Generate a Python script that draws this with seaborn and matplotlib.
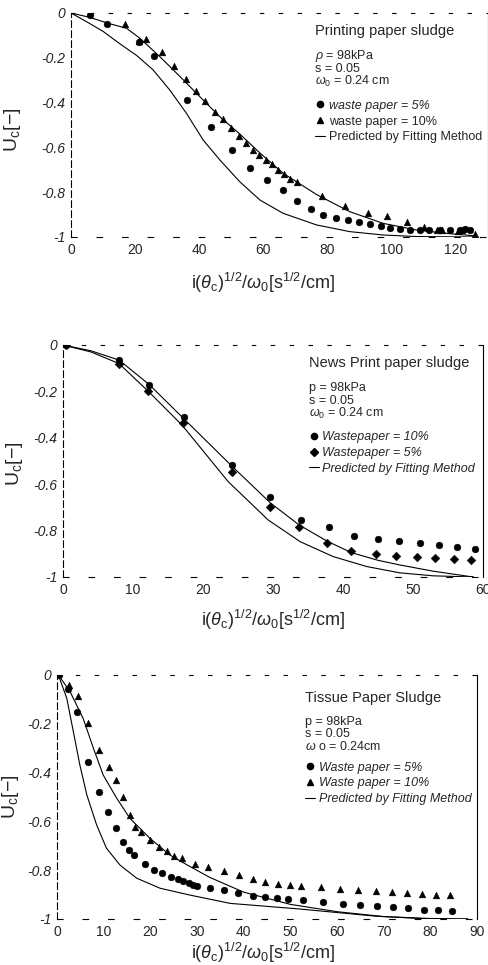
import numpy as np
import pandas as pd
import matplotlib
matplotlib.use('Agg')
import matplotlib.pyplot as plt
from matplotlib.lines import Line2D
import seaborn as sns

sns.set_style('white')
plt.rcParams['font.family'] = ['Liberation Sans', 'DejaVu Sans']
plt.rcParams['mathtext.fontset'] = 'custom'
plt.rcParams['mathtext.rm'] = 'Liberation Sans'
plt.rcParams['mathtext.it'] = 'Liberation Sans:italic'

##################################################################
# panel 1 : printing paper sludge
p1_x5 = [5.9, 11.3, 21.2, 26.0, 36.1, 43.5, 50.3, 55.9, 61.2, 66.1, 70.4, 74.8, 78.7, 82.5, 86.2, 89.8,
         93.1, 96.5, 99.6, 102.7, 105.8, 108.8, 111.7, 115.1, 118.2, 121.3, 122.8, 124.4]
p1_y5 = [-0.01, -0.05, -0.13, -0.19, -0.39, -0.51, -0.61, -0.69, -0.745, -0.79, -0.84, -0.875, -0.90,
         -0.914, -0.926, -0.935, -0.94, -0.95, -0.958, -0.964, -0.967, -0.967, -0.967, -0.967, -0.967,
         -0.967, -0.965, -0.967]
p1_x10 = [16.9, 21.3, 23.4, 28.3, 32.2, 35.8, 39.0, 41.9, 44.8, 47.5, 50.0, 52.3, 54.6, 56.7, 58.6, 60.7,
          62.7, 64.6, 66.4, 68.3, 70.3, 78.2, 85.3, 92.5, 98.6, 104.6, 110.2, 114.0, 115.6, 120.8, 122.0, 126.0]
p1_y10 = [-0.05, -0.126, -0.115, -0.174, -0.238, -0.293, -0.347, -0.394, -0.44, -0.473, -0.513, -0.548,
          -0.58, -0.61, -0.632, -0.655, -0.676, -0.70, -0.72, -0.74, -0.753, -0.815, -0.863, -0.893,
          -0.908, -0.934, -0.957, -0.967, -0.97, -0.972, -0.968, -0.988]
p1_fit_a_x = [0, 6, 11.6, 17.3, 21.5, 27.7, 34, 40.2, 46.4, 52.6, 58.9, 66.1, 76.5, 86.9, 97.3, 107.7, 118, 126]
p1_fit_a_y = [0, -0.02, -0.046, -0.068, -0.113, -0.195, -0.284, -0.374, -0.463, -0.54, -0.625, -0.715,
              -0.81, -0.887, -0.939, -0.969, -0.985, -0.995]
p1_fit_b_x = [0, 5, 10.1, 15, 20.5, 25.6, 30.8, 36, 41.2, 46.4, 52.6, 58.9, 66.1, 76.5, 86.9, 97.3, 107.7, 126]
p1_fit_b_y = [0, -0.04, -0.083, -0.135, -0.19, -0.254, -0.344, -0.448, -0.567, -0.656, -0.753, -0.835,
              -0.894, -0.946, -0.976, -0.991, -0.998, -1.0]

# panel 2 : news print paper sludge
p2_x10 = [0.4, 8.0, 12.3, 17.3, 24.2, 29.6, 34.0, 38.0, 41.6, 45.0, 48.0, 51.0, 53.7, 56.3, 58.9]
p2_y10 = [0, -0.065, -0.172, -0.31, -0.517, -0.654, -0.754, -0.786, -0.823, -0.836, -0.845, -0.852,
          -0.862, -0.869, -0.88]
p2_x5 = [0.4, 8.0, 12.2, 17.2, 24.1, 29.5, 33.7, 37.7, 41.2, 44.7, 47.6, 50.5, 53.1, 55.9, 58.3]
p2_y5 = [0, -0.08, -0.198, -0.338, -0.546, -0.697, -0.786, -0.852, -0.888, -0.901, -0.908, -0.912,
         -0.917, -0.922, -0.927]
p2_fit_a_x = [0, 4, 8, 12.3, 17.2, 24.2, 29.6, 33.7, 37.7, 41.2, 45, 48.1, 52.9, 58.6]
p2_fit_a_y = [0, -0.025, -0.065, -0.17, -0.316, -0.524, -0.68, -0.775, -0.845, -0.895, -0.928, -0.948,
              -0.975, -1.0]
p2_fit_b_x = [0, 4, 8, 12.2, 17, 23.6, 29.3, 33.9, 38.6, 43.4, 48.1, 52.9, 58.6]
p2_fit_b_y = [0, -0.03, -0.08, -0.2, -0.345, -0.589, -0.754, -0.848, -0.912, -0.955, -0.982, -0.995, -1.0]

# panel 3 : tissue paper sludge
p3_x5 = [0.5, 2.3, 4.2, 6.6, 9.0, 10.9, 12.6, 14.1, 15.4, 16.6, 18.8, 20.7, 22.6, 24.4, 25.9, 27.1, 28.2,
         29.1, 30.1, 32.7, 35.7, 38.8, 41.9, 44.5, 47.1, 49.6, 52.7, 57.1, 61.3, 65.0, 68.6, 72.1, 75.3,
         78.6, 81.6, 84.6]
p3_y5 = [0, -0.057, -0.15, -0.355, -0.48, -0.56, -0.625, -0.686, -0.716, -0.737, -0.774, -0.798, -0.812,
         -0.828, -0.836, -0.846, -0.853, -0.86, -0.866, -0.873, -0.883, -0.894, -0.905, -0.911, -0.914,
         -0.918, -0.924, -0.932, -0.939, -0.944, -0.948, -0.952, -0.956, -0.962, -0.965, -0.969]
p3_x10 = [2.5, 4.4, 6.6, 9.1, 11.1, 12.7, 14.2, 15.6, 16.7, 17.9, 19.9, 21.8, 23.6, 25.1, 26.8, 29.6, 32.3,
          35.7, 38.9, 42.0, 44.6, 47.3, 49.9, 52.3, 56.6, 60.7, 64.6, 68.4, 71.8, 75.0, 78.2, 81.2, 84.3]
p3_y10 = [-0.041, -0.085, -0.195, -0.307, -0.375, -0.43, -0.498, -0.573, -0.623, -0.645, -0.675, -0.703,
          -0.723, -0.741, -0.75, -0.774, -0.787, -0.802, -0.819, -0.836, -0.85, -0.857, -0.862, -0.866,
          -0.87, -0.877, -0.88, -0.884, -0.89, -0.894, -0.896, -0.9, -0.9]
p3_fit_a_x = [0.3, 2.8, 5.6, 7.8, 9.9, 12.8, 15.6, 19.9, 24.2, 28.5, 32.8, 40, 50, 60, 70, 80, 88]
p3_fit_a_y = [0, -0.068, -0.178, -0.3, -0.41, -0.505, -0.587, -0.669, -0.738, -0.785, -0.83, -0.89,
              -0.94, -0.97, -0.99, -1.0, -1.0]
p3_fit_b_x = [0.3, 2.1, 3.5, 4.9, 6.4, 8.5, 10.6, 13.5, 17.1, 22.1, 28.5, 37.1, 52, 68.6, 80, 88]
p3_fit_b_y = [0, -0.096, -0.232, -0.369, -0.492, -0.615, -0.71, -0.779, -0.833, -0.874, -0.902, -0.936,
              -0.959, -0.989, -0.998, -1.0]

y_ticks = [0, -0.2, -0.4, -0.6, -0.8, -1]
y_ticklabels = ['0', '-0.2', '-0.4', '-0.6', '-0.8', '-1']
x_ticks_1 = [0, 20, 40, 60, 80, 100, 120]
x_ticks_2 = [0, 10, 20, 30, 40, 50, 60]
x_ticks_3 = [0, 10, 20, 30, 40, 50, 60, 70, 80, 90]

##################################################################
W, H = 489, 965
fig = plt.figure(figsize=[W / 100, H / 100], dpi=100)

def box(l, t, r, b):
    return [l / W, 1 - b / H, (r - l) / W, (b - t) / H]

ax1 = fig.add_axes(box(71, 13, 488, 237))
ax2 = fig.add_axes(box(63, 345, 483, 577))
ax3 = fig.add_axes(box(57, 675, 477, 919))

ms = 24
xlab = r'i($\theta_{\rm c}$)$^{1/2}$/$\omega_{\rm 0}$[s$^{1/2}$/cm]'
ylab = r'U$_{\rm c}$[$-$]'

panels = [
    (ax1, (0, 130), x_ticks_1,
     [(p1_x5, p1_y5, 'o', 'waste paper = 5%', 'italic'), (p1_x10, p1_y10, '^', 'waste paper = 10%', 'normal')],
     [(p1_fit_a_x, p1_fit_a_y), (p1_fit_b_x, p1_fit_b_y)],
     ['Printing paper sludge', r'$\rho$ = 98kPa', 's = 0.05', r'$\omega_0$ = 0.24 cm'],
     0.585, [0.918, 0.806, 0.752, 0.694], 0.635, 'normal', (-0.115, 0.48), (0.46, -0.152)),
    (ax2, (0, 60), x_ticks_2,
     [(p2_x10, p2_y10, 'o', 'Wastepaper = 10%', 'italic'), (p2_x5, p2_y5, 'D', 'Wastepaper = 5%', 'italic')],
     [(p2_fit_a_x, p2_fit_a_y), (p2_fit_b_x, p2_fit_b_y)],
     ['News Print paper sludge', 'p = 98kPa', 's = 0.05', r'$\omega_0$ = 0.24 cm'],
     0.585, [0.922, 0.815, 0.759, 0.703], 0.65, 'italic', (-0.09, 0.49), (0.5, -0.135)),
    (ax3, (0, 90), x_ticks_3,
     [(p3_x5, p3_y5, 'o', 'Waste paper = 5%', 'italic'), (p3_x10, p3_y10, '^', 'Waste paper = 10%', 'italic')],
     [(p3_fit_a_x, p3_fit_a_y), (p3_fit_b_x, p3_fit_b_y)],
     ['Tissue Paper Sludge', 'p = 98kPa', 's = 0.05', r'$\omega$ o = 0.24cm'],
     0.59, [0.906, 0.807, 0.757, 0.707], 0.665, 'italic', (-0.086, 0.5), (0.49, -0.088)),
]

for ax, xlim, xt, series, fits, notes, tx, ty, ly, fitstyle, ylc, xlc in panels:
    handles = []
    for xs, ys, mk, lab, st in series:
        df = pd.DataFrame({'x': xs, 'y': ys})
        sns.scatterplot(data=df, x='x', y='y', ax=ax, marker=mk, s=ms if mk != 'D' else 20,
                        color='black', edgecolor='black', linewidth=0.3, legend=False, zorder=3)
        handles.append(Line2D([], [], marker=mk, color='black', linestyle='none', markersize=4.5, label=lab))
    for fx, fy in fits:
        df = pd.DataFrame({'x': fx, 'y': fy})
        sns.lineplot(data=df, x='x', y='y', ax=ax, color='black', linewidth=0.8, sort=False,
                     estimator=None, legend=False)
    handles.append(Line2D([], [], color='black', linewidth=0.8, label='Predicted by Fitting Method'))

    ax.set_xlim(*xlim)
    ax.set_ylim(-1, 0)
    ax.set_xticks(xt)
    ax.set_xticklabels([str(v) for v in xt], fontsize=10)
    ax.set_yticks(y_ticks)
    ax.set_yticklabels(y_ticklabels, fontsize=10, style='italic')
    ax.tick_params(length=0, pad=4)
    ax.set_xlabel(xlab, fontsize=13)
    ax.set_ylabel(ylab, fontsize=14)
    ax.yaxis.set_label_coords(*ylc)
    ax.xaxis.set_label_coords(*xlc)

    for side in ['left', 'top', 'bottom', 'right']:
        ax.spines[side].set_color('black')
        ax.spines[side].set_linewidth(0.8)
    ax.spines['left'].set_linestyle((0, (6, 3)))
    ax.spines['top'].set_linestyle((0, (3, 14)))
    ax.spines['bottom'].set_linestyle((0, (5, 18)))

    ax.text(tx, ty[0], notes[0], transform=ax.transAxes, fontsize=10.5, ha='left', va='center')
    for t, yy in zip(notes[1:], ty[1:]):
        ax.text(tx, yy, t, transform=ax.transAxes, fontsize=9, ha='left', va='center')

    leg = ax.legend(handles=handles, loc='upper left', bbox_to_anchor=(tx - 0.012, ly),
                    frameon=False, fontsize=9, handlelength=0.8, handletextpad=0.3,
                    labelspacing=0.3, borderaxespad=0)
    for txt, (xs, ys, mk, lab, st) in zip(leg.get_texts(), series):
        txt.set_fontstyle(st)
    leg.get_texts()[-1].set_fontstyle(fitstyle)

fig.savefig('out.png', dpi=100)
